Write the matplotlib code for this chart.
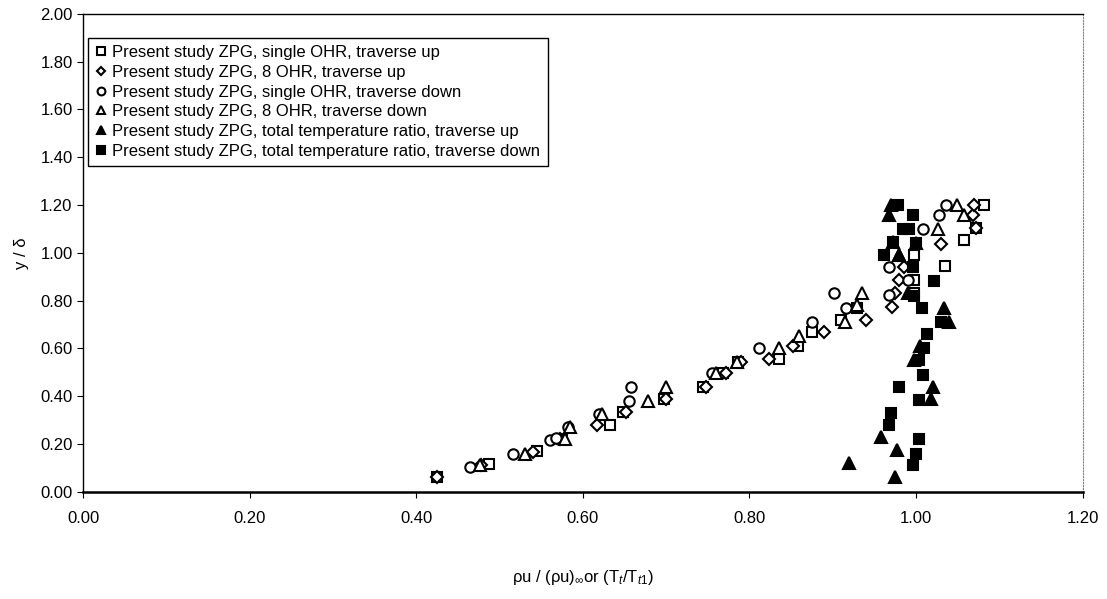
import matplotlib.pyplot as plt

plt.rcParams['font.family'] = ['Liberation Sans', 'DejaVu Sans']
plt.rcParams['mathtext.fontset'] = 'custom'
plt.rcParams['mathtext.rm'] = 'Liberation Sans'
plt.rcParams['mathtext.it'] = 'Liberation Sans:italic'

# single OHR, traverse up
sq_up_x = [0.425, 0.487, 0.545, 0.575, 0.633, 0.648, 0.698, 0.744, 0.768, 0.786, 0.836, 0.858,
           0.875, 0.910, 0.929, 0.998, 0.997, 1.035, 0.997, 1.057, 1.072, 1.081]
sq_up_y = [0.06, 0.115, 0.17, 0.22, 0.28, 0.335, 0.39, 0.44, 0.495, 0.545, 0.555, 0.61,
           0.67, 0.72, 0.77, 0.83, 0.885, 0.945, 0.99, 1.055, 1.105, 1.20]

# 8 OHR, traverse up
dm_up_x = [0.425, 0.478, 0.540, 0.572, 0.617, 0.652, 0.700, 0.748, 0.772, 0.790, 0.823, 0.852,
           0.890, 0.940, 0.971, 0.975, 0.980, 0.985, 1.030, 1.072, 1.068, 1.070]
dm_up_y = [0.06, 0.11, 0.165, 0.22, 0.28, 0.335, 0.39, 0.44, 0.495, 0.545, 0.555, 0.61,
           0.67, 0.72, 0.775, 0.83, 0.885, 0.94, 1.035, 1.105, 1.16, 1.20]

# single OHR, traverse down
ci_dn_x = [0.464, 0.516, 0.560, 0.568, 0.582, 0.620, 0.655, 0.658, 0.755, 0.812, 0.875, 0.916,
           0.902, 0.968, 0.990, 0.968, 1.008, 1.028, 1.036]
ci_dn_y = [0.105, 0.16, 0.215, 0.225, 0.27, 0.325, 0.38, 0.44, 0.495, 0.60, 0.71, 0.77,
           0.83, 0.825, 0.885, 0.94, 1.10, 1.16, 1.20]

# 8 OHR, traverse down
tr_dn_x = [0.476, 0.530, 0.578, 0.585, 0.623, 0.678, 0.700, 0.760, 0.785, 0.835, 0.860, 0.915,
           0.929, 0.935, 0.980, 0.972, 1.000, 1.026, 1.057, 1.049]
tr_dn_y = [0.11, 0.16, 0.22, 0.27, 0.325, 0.38, 0.44, 0.495, 0.545, 0.60, 0.65, 0.71,
           0.78, 0.83, 0.99, 1.045, 1.04, 1.10, 1.16, 1.20]

# total temperature ratio, traverse up
tt_up_x = [0.975, 0.920, 0.977, 0.958, 1.018, 1.020, 0.998, 1.005, 1.040, 1.034, 0.990,
           0.980, 0.968, 0.970]
tt_up_y = [0.06, 0.12, 0.175, 0.23, 0.39, 0.44, 0.55, 0.61, 0.71, 0.77, 0.83,
           0.99, 1.16, 1.20]

# total temperature ratio, traverse down
tt_dn_x = [0.996, 1.000, 1.003, 0.967, 0.970, 1.003, 0.979, 1.008, 1.004, 1.010, 1.013, 1.030,
           1.007, 0.998, 1.022, 0.996, 0.962, 0.972, 1.000, 0.984, 0.992, 0.996, 0.978]
tt_dn_y = [0.11, 0.16, 0.22, 0.28, 0.33, 0.385, 0.44, 0.49, 0.55, 0.60, 0.66, 0.71,
           0.77, 0.82, 0.88, 0.94, 0.99, 1.045, 1.04, 1.10, 1.10, 1.16, 1.20]

fig = plt.figure(figsize=(11.07, 5.99), dpi=100)
ax = fig.add_axes([0.075, 0.179, 0.903, 0.798])

mk = dict(linestyle='none', color='black', markeredgecolor='black', markeredgewidth=1.5)
ax.plot(sq_up_x, sq_up_y, marker='s', markersize=7, markerfacecolor='white', **mk,
        label='Present study ZPG, single OHR, traverse up')
ax.plot(dm_up_x, dm_up_y, marker='D', markersize=6, markerfacecolor='white', **mk,
        label='Present study ZPG, 8 OHR, traverse up')
ax.plot(ci_dn_x, ci_dn_y, marker='o', markersize=7.5, markerfacecolor='white', **mk,
        label='Present study ZPG, single OHR, traverse down')
ax.plot(tr_dn_x, tr_dn_y, marker='^', markersize=8, markerfacecolor='white', **mk,
        label='Present study ZPG, 8 OHR, traverse down')
ax.plot(tt_up_x, tt_up_y, marker='^', markersize=8, markerfacecolor='black', **mk,
        label='Present study ZPG, total temperature ratio, traverse up')
ax.plot(tt_dn_x, tt_dn_y, marker='s', markersize=7, markerfacecolor='black', **mk,
        label='Present study ZPG, total temperature ratio, traverse down')

ax.set_xlim(0, 1.2)
ax.set_ylim(0, 2.0)
ax.set_xticks([0, 0.2, 0.4, 0.6, 0.8, 1.0, 1.2])
ax.set_yticks([0, 0.2, 0.4, 0.6, 0.8, 1.0, 1.2, 1.4, 1.6, 1.8, 2.0])
ax.xaxis.set_major_formatter(plt.FormatStrFormatter('%.2f'))
ax.yaxis.set_major_formatter(plt.FormatStrFormatter('%.2f'))
ax.tick_params(direction='out', length=4, width=0.8, labelsize=12, colors='black')
ax.tick_params(axis='x', pad=10)

ax.spines['right'].set_linestyle(':')
ax.spines['right'].set_color('0.5')
for s in ['left', 'bottom', 'top']:
    ax.spines[s].set_linewidth(1.0)
ax.spines['bottom'].set_linewidth(1.8)

ax.set_xlabel('ρu / (ρu)$_{\\infty}$or (T$_{t}$/T$_{t1}$)', fontsize=12, labelpad=30)
ax.set_ylabel('y / δ', fontsize=12, labelpad=8)

leg = ax.legend(loc='upper left', bbox_to_anchor=(0.005, 0.95), borderaxespad=0,
                fontsize=12, frameon=True, fancybox=False, edgecolor='black', framealpha=1,
                handlelength=0.6, handletextpad=0.4, labelspacing=0.28,
                borderpad=0.45, markerscale=0.75)
leg.get_frame().set_linewidth(1.0)

fig.savefig('out.png', dpi=100)
